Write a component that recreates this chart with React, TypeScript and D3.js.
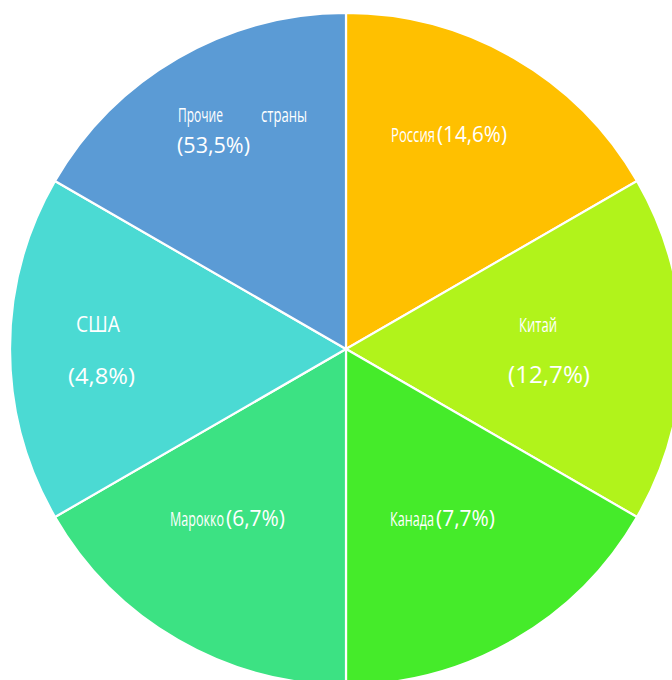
import React from "react";
import * as d3 from "d3";

const countries = ["Россия", "Китай", "Канада", "Марокко", "США", "Прочие страны"];
const shares = ["14,6%", "12,7%", "7,7%", "6,7%", "4,8%", "53,5%"];
// the reference draws every slice with the same angle
const sliceWeights = [1, 1, 1, 1, 1, 1];
const colors = ["#FFC000", "#B1F31B", "#45EB2A", "#3CE283", "#4BDAD3", "#5B9BD5"];

type Piece = { t: string; x: number; y: number; w: number; fs: number; cond?: boolean };

// label layout (styles/positions only)
const labelLayout: Piece[][] = [
  [
    { t: "name", x: 391, y: 142, w: 44, fs: 20, cond: true },
    { t: "pct", x: 437, y: 142, w: 70, fs: 22 },
  ],
  [
    { t: "name", x: 519, y: 332, w: 38, fs: 20, cond: true },
    { t: "pct", x: 508, y: 383, w: 82, fs: 24 },
  ],
  [
    { t: "name", x: 390, y: 526, w: 44, fs: 20, cond: true },
    { t: "pct", x: 436, y: 526, w: 59, fs: 21 },
  ],
  [
    { t: "name", x: 170, y: 526, w: 54, fs: 20, cond: true },
    { t: "pct", x: 226, y: 526, w: 59, fs: 21 },
  ],
  [
    { t: "name", x: 76, y: 332, w: 44, fs: 21 },
    { t: "pct", x: 68, y: 384, w: 67, fs: 22 },
  ],
  [
    { t: "name0", x: 178, y: 122, w: 45, fs: 20, cond: true },
    { t: "name1", x: 261, y: 122, w: 46, fs: 20, cond: true },
    { t: "pct", x: 177, y: 153, w: 73, fs: 22 },
  ],
];

export default function App() {
  const width = 672;
  const height = 680;
  const cx = 346;
  const cy = 349;
  const r = 336;

  const pie = d3
    .pie<number>()
    .sort(null)
    .value((d) => d)
    .startAngle(0)
    .endAngle(2 * Math.PI);
  const arcs = pie(sliceWeights);
  const arc = d3.arc<d3.PieArcDatum<number>>().innerRadius(0).outerRadius(r);

  return (
    <svg
      width={width}
      height={height}
      style={{ position: "absolute", left: 0, top: 0 }}
      xmlns="http://www.w3.org/2000/svg"
    >
      <rect width={width} height={height} fill="#ffffff" />
      <g transform={`translate(${cx},${cy})`}>
        {arcs.map((a, i) => (
          <path key={i} d={arc(a) || ""} fill={colors[i]} stroke="#ffffff" strokeWidth={2.2} />
        ))}
      </g>
      <g fill="#ffffff">
        {labelLayout.map((pieces, i) =>
          pieces.map((p, j) => {
            let txt = "";
            if (p.t === "name") txt = countries[i];
            else if (p.t === "name0") txt = countries[i].split(" ")[0];
            else if (p.t === "name1") txt = countries[i].split(" ")[1];
            else txt = `(${shares[i]})`;
            return (
              <text
                key={`${i}-${j}`}
                x={p.x}
                y={p.y}
                fontSize={p.fs}
                fontFamily={p.cond ? "'Liberation Sans Narrow', 'Open Sans', sans-serif" : "'Open Sans', sans-serif"}
                textLength={p.w}
                lengthAdjust="spacingAndGlyphs"
              >
                {txt}
              </text>
            );
          })
        )}
      </g>
    </svg>
  );
}
